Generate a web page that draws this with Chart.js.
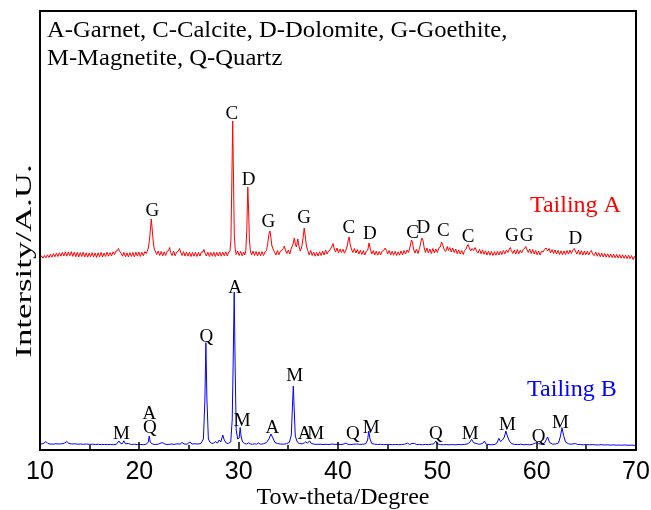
<!DOCTYPE html>
<html>
<head>
<meta charset="utf-8">
<script src="https://cdn.jsdelivr.net/npm/chart.js@4/dist/chart.umd.min.js"></script>
<style>
  html, body { margin: 0; padding: 0; background: #ffffff; }
  #wrap { width: 651px; height: 510px; position: relative; }
</style>
</head>
<body>
<div id="wrap"><canvas id="xrd" width="651" height="510"></canvas></div>
<script>
// XRD patterns of the two tailings: [2-theta (degree), counts]
const tailingA = [
  [10.0,15],[10.15,42],[10.3,18],[10.45,45],[10.6,22],[10.75,52],[10.9,25],[11.05,58],[11.2,28],[11.35,64],
  [11.5,32],[11.65,68],[11.8,35],[11.95,72],[12.1,38],[12.25,76],[12.4,40],[12.55,82],[12.7,38],[12.85,80],
  [13.0,42],[13.15,84],[13.3,36],[13.45,78],[13.6,32],[13.75,76],[13.9,30],[14.05,74],[14.2,35],[14.35,78],
  [14.5,30],[14.65,72],[14.8,28],[14.95,70],[15.1,32],[15.25,74],[15.4,30],[15.55,70],[15.7,26],[15.85,72],
  [16.0,32],[16.15,76],[16.3,30],[16.45,70],[16.6,35],[16.75,78],[16.9,38],[17.05,74],[17.2,40],[17.35,82],
  [17.5,55],[17.65,90],[17.8,95],[17.9,115],[18.0,90],[18.15,70],[18.3,38],[18.45,76],[18.6,32],[18.75,72],
  [18.9,30],[19.05,74],[19.2,35],[19.35,76],[19.5,32],[19.65,78],[19.8,38],[19.95,80],[20.1,35],[20.25,77],
  [20.4,42],[20.55,84],[20.7,65],[20.85,100],[20.95,150],[21.05,230],[21.2,410],[21.3,300],[21.4,180],[21.5,110],
  [21.6,90],[21.75,55],[21.9,90],[22.05,45],[22.2,85],[22.35,40],[22.5,82],[22.65,45],[22.8,88],[22.95,95],
  [23.05,125],[23.15,75],[23.3,45],[23.45,90],[23.6,42],[23.75,80],[23.9,85],[24.05,115],[24.15,80],[24.3,45],
  [24.45,85],[24.6,40],[24.75,80],[24.9,38],[25.05,78],[25.2,35],[25.35,76],[25.5,38],[25.65,78],[25.8,35],
  [25.95,75],[26.1,40],[26.25,80],[26.4,80],[26.5,105],[26.6,70],[26.75,40],[26.9,78],[27.05,35],[27.2,75],
  [27.35,38],[27.5,78],[27.65,35],[27.8,76],[27.95,40],[28.1,80],[28.25,38],[28.4,78],[28.55,42],[28.7,82],
  [28.85,40],[29.0,80],[29.12,85],[29.22,200],[29.3,700],[29.4,1390],[29.48,800],[29.56,250],[29.65,110],[29.75,55],
  [29.9,90],[30.05,45],[30.2,85],[30.35,42],[30.5,80],[30.62,50],[30.72,95],[30.82,300],[30.92,730],[31.0,500],
  [31.08,200],[31.18,90],[31.3,50],[31.45,88],[31.6,45],[31.75,85],[31.9,40],[32.05,82],[32.2,42],[32.35,84],
  [32.5,45],[32.65,80],[32.8,95],[32.92,160],[33.05,260],[33.15,290],[33.25,220],[33.35,140],[33.5,100],[33.6,80],
  [33.75,50],[33.9,95],[34.05,52],[34.2,90],[34.35,95],[34.5,115],[34.6,140],[34.7,100],[34.85,65],[35.0,100],
  [35.15,60],[35.3,120],[35.45,150],[35.6,220],[35.72,150],[35.82,130],[35.95,210],[36.05,150],[36.2,90],[36.35,130],
  [36.48,220],[36.6,320],[36.7,240],[36.82,140],[36.95,95],[37.1,50],[37.25,95],[37.4,45],[37.55,80],[37.7,38],
  [37.85,76],[38.0,40],[38.15,82],[38.3,45],[38.45,90],[38.6,50],[38.75,100],[38.9,60],[39.05,90],[39.2,100],
  [39.35,130],[39.5,165],[39.62,110],[39.75,80],[39.9,120],[40.05,70],[40.2,110],[40.35,75],[40.5,108],[40.65,68],
  [40.8,100],[40.95,150],[41.05,210],[41.12,230],[41.22,160],[41.35,110],[41.5,75],[41.65,115],[41.8,70],[41.95,105],
  [42.1,60],[42.25,98],[42.4,55],[42.55,95],[42.7,50],[42.85,90],[43.0,100],[43.12,170],[43.25,110],[43.4,60],
  [43.55,95],[43.7,50],[43.85,88],[44.0,48],[44.15,85],[44.3,52],[44.45,90],[44.6,95],[44.75,120],[44.88,95],
  [45.0,60],[45.15,95],[45.3,50],[45.45,88],[45.6,48],[45.75,86],[45.9,45],[46.05,82],[46.2,48],[46.35,90],
  [46.5,52],[46.65,95],[46.8,60],[46.95,100],[47.1,75],[47.25,130],[47.4,200],[47.5,180],[47.6,110],[47.75,70],
  [47.9,110],[48.05,65],[48.2,115],[48.32,170],[48.45,220],[48.55,200],[48.68,120],[48.8,75],[48.95,120],[49.1,70],
  [49.25,110],[49.4,65],[49.55,115],[49.7,70],[49.85,110],[50.0,75],[50.15,120],[50.3,130],[50.42,180],[50.55,150],
  [50.7,100],[50.85,85],[51.0,135],[51.12,95],[51.25,125],[51.4,80],[51.55,120],[51.7,75],[51.85,110],[52.0,62],
  [52.15,100],[52.3,60],[52.45,95],[52.6,55],[52.75,95],[52.9,110],[53.0,140],[53.1,155],[53.22,120],[53.35,90],
  [53.5,115],[53.65,95],[53.8,125],[53.95,90],[54.1,70],[54.25,108],[54.4,62],[54.55,100],[54.7,58],[54.85,92],
  [55.0,50],[55.15,88],[55.3,48],[55.45,86],[55.6,45],[55.75,84],[55.9,48],[56.05,86],[56.2,50],[56.35,90],
  [56.5,55],[56.65,95],[56.8,62],[56.95,100],[57.1,75],[57.25,110],[57.35,125],[57.45,95],[57.6,65],[57.75,100],
  [57.9,60],[58.05,105],[58.2,62],[58.35,98],[58.5,72],[58.65,108],[58.8,115],[58.9,135],[59.0,110],[59.15,75],
  [59.3,110],[59.45,65],[59.6,105],[59.75,60],[59.9,95],[60.05,52],[60.2,90],[60.35,50],[60.5,88],[60.65,80],
  [60.8,108],[60.95,120],[61.1,90],[61.25,115],[61.4,70],[61.55,105],[61.7,65],[61.85,100],[62.0,60],[62.15,95],
  [62.3,55],[62.45,92],[62.6,52],[62.75,90],[62.9,55],[63.05,95],[63.2,60],[63.35,98],[63.5,65],[63.65,100],
  [63.78,115],[63.9,90],[64.05,60],[64.2,98],[64.35,55],[64.5,92],[64.65,50],[64.8,90],[64.95,52],[65.1,88],
  [65.25,50],[65.4,85],[65.5,95],[65.65,55],[65.8,45],[65.95,80],[66.1,38],[66.25,72],[66.4,32],[66.55,68],
  [66.7,30],[66.85,65],[67.0,28],[67.15,62],[67.3,26],[67.45,60],[67.6,24],[67.75,58],[67.9,22],[68.05,56],
  [68.2,20],[68.35,54],[68.5,18],[68.65,52],[68.8,16],[68.95,50],[69.1,15],[69.25,48],[69.4,14],[69.55,45],
  [69.7,5],[69.85,35],[70.0,12]
];

const tailingB = [
  [10.0,60],[10.3,62],[10.6,85],[10.8,65],[11.0,60],[11.3,58],[11.6,62],[11.9,60],[12.2,62],[12.5,70],
  [12.7,85],[12.9,66],[13.2,60],[13.5,62],[13.8,58],[14.1,60],[14.4,57],[14.7,60],[15.0,56],[15.3,58],
  [15.6,55],[15.9,57],[16.2,54],[16.5,56],[16.8,54],[17.1,55],[17.4,53],[17.7,58],[17.95,90],[18.15,62],
  [18.3,65],[18.45,92],[18.6,62],[18.9,65],[19.2,55],[19.5,58],[19.8,54],[20.1,56],[20.4,53],[20.7,58],
  [20.9,80],[21.0,140],[21.1,80],[21.3,60],[21.6,55],[21.9,58],[22.3,75],[22.6,58],[22.9,55],[23.2,60],
  [23.5,56],[23.8,62],[24.1,58],[24.3,75],[24.5,60],[24.8,58],[25.1,80],[25.3,60],[25.6,62],[25.9,60],
  [26.2,65],[26.45,110],[26.6,500],[26.7,1073],[26.8,520],[26.95,110],[27.1,80],[27.3,65],[27.5,70],[27.7,85],
  [27.85,68],[28.05,100],[28.2,80],[28.4,150],[28.55,100],[28.75,70],[28.95,65],[29.2,80],[29.35,300],[29.45,900],
  [29.55,1580],[29.65,800],[29.75,200],[29.9,110],[30.05,120],[30.15,225],[30.25,130],[30.4,80],[30.6,65],[30.8,60],
  [31.0,72],[31.2,60],[31.4,58],[31.6,62],[31.8,58],[32.0,70],[32.2,58],[32.5,62],[32.8,75],[33.05,110],
  [33.25,160],[33.45,120],[33.65,75],[33.9,65],[34.2,60],[34.5,58],[34.8,62],[35.1,75],[35.3,150],[35.42,450],
  [35.5,640],[35.58,430],[35.7,140],[35.9,80],[36.1,65],[36.4,62],[36.6,70],[36.75,83],[36.9,68],[37.15,90],
  [37.3,66],[37.6,58],[37.9,56],[38.2,58],[38.5,55],[38.8,57],[39.1,55],[39.4,60],[39.7,56],[40.0,58],
  [40.3,55],[40.6,60],[40.8,70],[41.0,57],[41.3,55],[41.6,58],[41.9,60],[42.2,56],[42.5,58],[42.8,62],
  [42.98,100],[43.1,190],[43.22,110],[43.4,65],[43.7,58],[44.0,55],[44.3,57],[44.6,54],[44.9,56],[45.2,55],
  [45.5,53],[45.8,55],[46.1,53],[46.4,55],[46.7,58],[47.0,68],[47.2,55],[47.45,65],[47.7,66],[47.9,54],
  [48.2,56],[48.5,52],[48.8,56],[49.1,53],[49.4,58],[49.65,62],[49.85,90],[50.0,62],[50.3,54],[50.6,52],
  [50.9,55],[51.2,52],[51.5,54],[51.8,52],[52.1,55],[52.4,53],[52.7,56],[53.0,60],[53.25,75],[53.45,107],
  [53.65,72],[53.9,65],[54.15,58],[54.4,60],[54.6,70],[54.75,90],[54.9,58],[55.2,54],[55.5,52],[55.8,56],
  [56.0,70],[56.2,117],[56.35,85],[56.55,100],[56.75,130],[56.9,190],[57.05,140],[57.25,90],[57.5,62],[57.8,56],
  [58.1,54],[58.4,58],[58.7,52],[59.0,55],[59.3,52],[59.6,58],[59.85,68],[60.0,80],[60.2,62],[60.5,58],
  [60.8,70],[61.1,130],[61.3,75],[61.6,58],[61.9,60],[62.2,70],[62.4,140],[62.55,223],[62.7,150],[62.9,80],
  [63.2,62],[63.5,58],[63.9,65],[64.1,56],[64.4,55],[64.7,52],[65.0,55],[65.3,52],[65.6,54],[65.9,52],
  [66.2,50],[66.5,53],[66.8,50],[67.1,52],[67.4,49],[67.7,51],[68.0,48],[68.3,50],[68.6,48],[68.9,50],
  [69.2,47],[69.5,49],[69.8,47],[70.0,48]
];

// Tailing A is stacked above Tailing B by this many counts
const offsetA = 1900;

// Phase marks: [2-theta, phase letter, counts level of the letter]
const phasesA = [
  [21.3,'G',490],[29.3,'C',1463],[31.0,'D',800],[33.0,'G',383],[36.6,'G',423],
  [41.1,'C',317],[43.2,'D',257],[47.5,'C',273],[48.6,'D',317],[50.6,'C',290],
  [53.1,'C',230],[57.5,'G',240],[59.0,'G',240],[63.9,'D',207]
];
const phasesB = [
  [18.2,'M',163],[21.0,'A',357],[21.05,'Q',223],[26.75,'Q',1125],[29.65,'A',1615],
  [30.35,'M',290],[33.4,'A',223],[35.65,'M',740],[36.65,'A',163],[37.75,'M',163],
  [41.5,'Q',157],[43.35,'M',223],[49.85,'Q',157],[53.3,'M',157],[57.05,'M',250],
  [60.2,'Q',130],[62.4,'M',273]
];

// Sample names: [text, 2-theta, counts level within its own pattern]
const sampleNames = [['Tailing A',63.9,540],['Tailing B',63.55,607]];
const legendLines = ['A-Garnet, C-Calcite, D-Dolomite, G-Goethite,', 'M-Magnetite, Q-Quartz'];
const xTicks = [10, 20, 30, 40, 50, 60, 70];
const xMinorTicks = [15, 25, 35, 45, 55, 65];

const RED = '#ff0000';
const BLUE = '#0000ff';
const SERIF = '"Liberation Serif", "Times New Roman", serif';
const SANS = '"Liberation Sans", Arial, sans-serif';

const decor = {
  id: 'decor',
  afterDatasetsDraw(chart) {
    const ctx = chart.ctx;
    const area = chart.chartArea;
    const xs = chart.scales.x;
    const ys = chart.scales.y;
    ctx.save();

    // phase letters
    ctx.fillStyle = '#000';
    ctx.font = '19px ' + SERIF;
    ctx.textAlign = 'center';
    ctx.textBaseline = 'middle';
    phasesA.forEach(([t, p, c]) => ctx.fillText(p, xs.getPixelForValue(t), ys.getPixelForValue(c + offsetA)));
    phasesB.forEach(([t, p, c]) => ctx.fillText(p, xs.getPixelForValue(t), ys.getPixelForValue(c)));

    // sample names
    ctx.font = '24px ' + SERIF;
    sampleNames.forEach(([name, t, c], i) => {
      ctx.fillStyle = i === 0 ? RED : BLUE;
      const v = i === 0 ? c + offsetA : c;
      ctx.fillText(name, xs.getPixelForValue(t), ys.getPixelForValue(v));
    });

    // phase key, slightly widened type
    ctx.fillStyle = '#000';
    ctx.textAlign = 'left';
    ctx.textBaseline = 'alphabetic';
    ctx.font = '22.5px ' + SERIF;
    legendLines.forEach((line, i) => {
      ctx.save();
      ctx.translate(area.left + 7, area.top + 26 + i * 28);
      ctx.scale(1.095, 1);
      ctx.fillText(line, 0, 0);
      ctx.restore();
    });

    // plot frame
    ctx.strokeStyle = '#000';
    ctx.lineWidth = 2;
    ctx.strokeRect(area.left, area.top, area.right - area.left, area.bottom - area.top);

    // inward ticks on the bottom axis
    ctx.lineWidth = 1.5;
    ctx.beginPath();
    xTicks.forEach(t => {
      const px = Math.round(xs.getPixelForValue(t));
      ctx.moveTo(px, area.bottom);
      ctx.lineTo(px, area.bottom - 8);
    });
    xMinorTicks.forEach(t => {
      const px = Math.round(xs.getPixelForValue(t));
      ctx.moveTo(px, area.bottom);
      ctx.lineTo(px, area.bottom - 5);
    });
    ctx.stroke();

    // axis titles
    ctx.fillStyle = '#000';
    ctx.font = '24px ' + SERIF;
    ctx.textAlign = 'center';
    ctx.textBaseline = 'alphabetic';
    ctx.fillText('Tow-theta/Degree', (area.left + area.right) / 2 + 5, 504);

    ctx.translate(31, 261);
    ctx.rotate(-Math.PI / 2);
    ctx.scale(1.45, 1);
    ctx.fillText('Intersity/A.U.', 0, 0);
    ctx.restore();
  }
};

new Chart(document.getElementById('xrd'), {
  type: 'line',
  data: {
    datasets: [
      {
        label: 'Tailing A',
        data: tailingA.map(([t, c]) => ({ x: t, y: c + offsetA })),
        borderColor: RED,
        borderWidth: 1,
        pointRadius: 0,
        tension: 0
      },
      {
        label: 'Tailing B',
        data: tailingB.map(([t, c]) => ({ x: t, y: c })),
        borderColor: BLUE,
        borderWidth: 1,
        pointRadius: 0,
        tension: 0
      }
    ]
  },
  options: {
    responsive: false,
    animation: false,
    devicePixelRatio: 1,
    layout: { padding: { left: 40, right: 15, top: 11, bottom: 0 } },
    plugins: { legend: { display: false }, tooltip: { enabled: false } },
    scales: {
      x: {
        type: 'linear',
        min: 10,
        max: 70,
        grid: { display: false, drawTicks: false },
        border: { display: false },
        ticks: {
          stepSize: 10,
          autoSkip: false,
          maxRotation: 0,
          padding: 7,
          color: '#000',
          font: { family: SANS, size: 25 }
        },
        afterFit: s => { s.height = 60; s.paddingLeft = 0; s.paddingRight = 0; }
      },
      y: {
        display: false,
        min: 0,
        max: 4390
      }
    }
  },
  plugins: [decor]
});
</script>
</body>
</html>
